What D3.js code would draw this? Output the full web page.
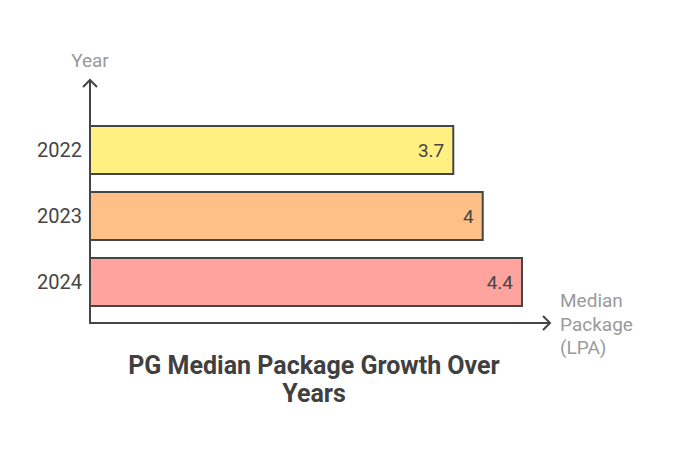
<!DOCTYPE html>
<html><head><meta charset="utf-8">
<script src="https://cdn.jsdelivr.net/npm/d3@7"></script>
<style>body{margin:0;background:#fff}svg{display:block}text{font-family:Roboto,sans-serif}</style>
</head><body>
<script>
const categories = ["2022","2023","2024"];
const values = [3.7, 4, 4.4];
const colors = ["#FFF081","#FFC087","#FFA39F"];
const titleLines = ["PG Median Package Growth Over","Years"];
const xLabelLines = ["Median","Package","(LPA)"];

const W=678,H=456;
const svg=d3.select("body").append("svg").attr("width",W).attr("height",H);
const x=d3.scaleLinear().domain([0,4.4]).range([90,522]);
const y=d3.scaleBand().domain(categories).range([117,315]).paddingInner(18/66).paddingOuter(9/66);

const ink="#454545";
// bars
svg.selectAll("rect.bar").data(values).enter().append("rect")
  .attr("x",x(0)).attr("y",(d,i)=>y(categories[i]))
  .attr("width",d=>x(d)-x(0)).attr("height",y.bandwidth())
  .attr("fill",(d,i)=>colors[i]).attr("stroke",ink).attr("stroke-width",2);
svg.selectAll("text.val").data(values).enter().append("text")
  .attr("x",d=>x(d)-9).attr("y",(d,i)=>y(categories[i])+y.bandwidth()/2)
  .attr("dy","0.36em").attr("text-anchor","end").attr("font-size",19).attr("fill",ink)
  .text(d=>d);
svg.selectAll("text.cat").data(categories).enter().append("text")
  .attr("x",82).attr("y",d=>y(d)+y.bandwidth()/2).attr("dy","0.36em")
  .attr("text-anchor","end").attr("font-size",20).attr("fill",ink).text(d=>d);

// axes
svg.append("path").attr("d","M90,80V323H550").attr("fill","none").attr("stroke",ink).attr("stroke-width",2);
svg.append("path").attr("d","M83,87L90,80L97,87").attr("fill","none").attr("stroke",ink).attr("stroke-width",2);
svg.append("path").attr("d","M543,316L550,323L543,330").attr("fill","none").attr("stroke",ink).attr("stroke-width",2);

svg.append("text").attr("x",90).attr("y",67).attr("text-anchor","middle").attr("font-size",19).attr("fill","#9a9a9a").text("Year");
svg.append("text").attr("x",560).attr("y",307).attr("font-size",19).attr("fill","#9a9a9a")
  .selectAll("tspan").data(xLabelLines).enter().append("tspan").attr("x",560).attr("dy",(d,i)=>i?23.5:0).text(d=>d);

svg.append("text").attr("x",314).attr("y",374).attr("text-anchor","middle").attr("font-size",25).attr("font-weight","bold").attr("fill","#404040")
  .selectAll("tspan").data(titleLines).enter().append("tspan").attr("x",314).attr("dy",(d,i)=>i?28:0).text(d=>d);
</script>
</body></html>
